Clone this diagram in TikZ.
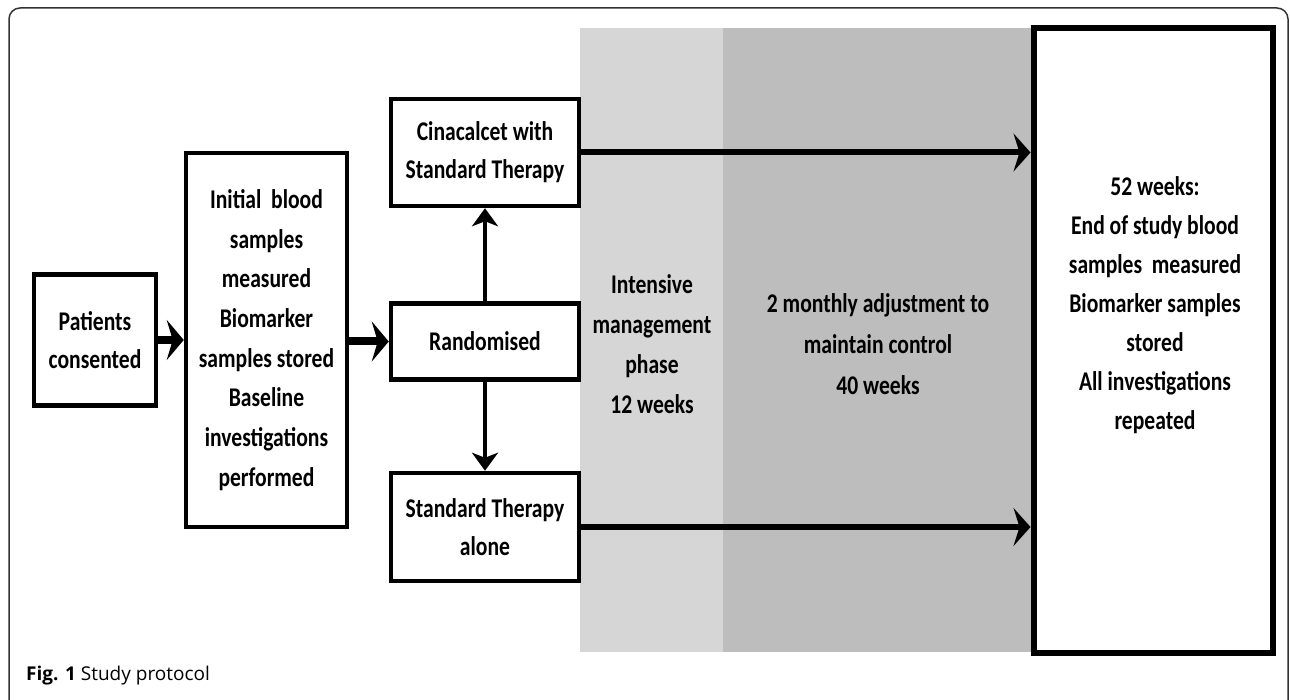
\documentclass[tikz,border=0pt]{standalone}
\usepackage{fontspec}
\usetikzlibrary{arrows.meta}
\newfontfamily\boxfont{Carlito}[FakeStretch=0.8]
\newfontfamily\capfont{Open Sans}
\definecolor{lightgr}{HTML}{D6D6D6}
\definecolor{darkgr}{HTML}{BDBDBD}
\definecolor{framec}{HTML}{333333}
\tikzset{
  box/.style={draw=black, line width=4.5pt, fill=white, inner sep=0pt, align=center,
    font={\boxfont\bfseries\fontsize{27}{38}\selectfont}},
  txt/.style={inner sep=0pt, align=center, font={\boxfont\bfseries\fontsize{27}{39}\selectfont}},
  bigarrow/.style={line width=8pt, -{Stealth[length=17pt, width=40pt, inset=6pt]}},
  midarrow/.style={line width=6pt, -{Stealth[length=17pt, width=38pt, inset=6pt]}},
  smallarrow/.style={line width=4.5pt, -{Stealth[length=18pt, width=26pt, inset=5pt]}},
}
\begin{document}
\begin{tikzpicture}[x=1pt, y=-1pt]
\useasboundingbox (0,0) rectangle (1290,700);
% outer frame
\draw[framec, line width=1.5pt, rounded corners=11pt] (9,702) -- (9,8) -- (1288,8) -- (1288,702);
% phase regions
\fill[lightgr] (580,28) rectangle (723,652);
\fill[darkgr] (723,28) rectangle (1033,652);
% boxes
\node[box, minimum width=122pt, minimum height=131pt] (pat) at (95,340) {Patients\\consented};
\node[box, minimum width=161pt, minimum height=374pt, font={\boxfont\bfseries\fontsize{27}{39.7}\selectfont}] (init) at (266.5,340)
  {Initial\ \ blood\\samples\\measured\\Biomarker\\samples stored\\Baseline\\investigations\\performed};
\node[box, minimum width=188pt, minimum height=107pt] (cin) at (485,152.5) {Cinacalcet with\\Standard Therapy};
\node[box, minimum width=188pt, minimum height=76pt] (rand) at (485,341.5) {Randomised};
\node[box, minimum width=188pt, minimum height=108pt] (std) at (485,527) {Standard Therapy\\alone};
\node[box, line width=6pt, minimum width=239pt, minimum height=624pt] (endbox) at (1153,340.5) {};
\node[txt] (endtxt) at (1155,305) {52 weeks:\\End of study blood\\samples\ \ measured\\Biomarker samples\\stored\\All investigations\\repeated};
% phase labels
\node[txt, font={\boxfont\bfseries\fontsize{27}{40}\selectfont}] (ph1) at (652,344) {Intensive\\management\\phase\\12 weeks};
\node[txt, font={\boxfont\bfseries\fontsize{27}{41}\selectfont}] (ph2) at (878,344) {2 monthly adjustment to\\maintain control\\40 weeks};
% connectors
\draw[bigarrow] (pat.east) -- (init.west |- pat.east);
\draw[bigarrow] (init.east |- rand.west) -- (rand.west);
\draw[smallarrow] (rand.north) -- (cin.south);
\draw[smallarrow] (rand.south) -- (std.north);
\draw[midarrow] (cin.east) -- (cin.east -| endbox.west);
\draw[midarrow] (std.east) -- (std.east -| endbox.west);
% caption
\node[anchor=base west, inner sep=0pt, font={\capfont\fontsize{19}{22}\selectfont}] (cap) at (26,680) {\textbf{Fig. 1} Study protocol};
\end{tikzpicture}
\end{document}
